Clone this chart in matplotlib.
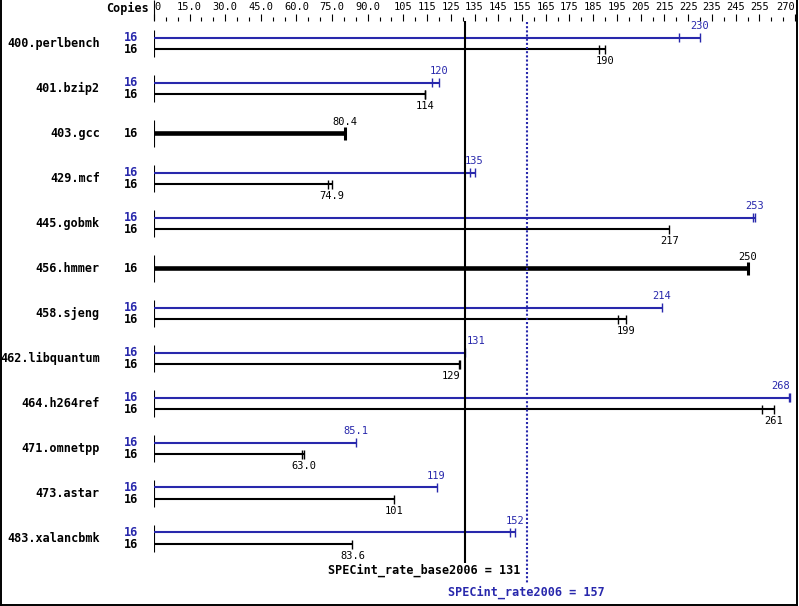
import matplotlib
matplotlib.use("Agg")
import matplotlib.pyplot as plt
from matplotlib.lines import Line2D

benchmarks = ["400.perlbench", "401.bzip2", "403.gcc", "429.mcf", "445.gobmk",
              "456.hmmer", "458.sjeng", "462.libquantum", "464.h264ref",
              "471.omnetpp", "473.astar", "483.xalancbmk"]
copies = [16] * 12
# peak (blue) and base (black) ratios; None = peak same as base (single bar)
peak = [230, 120, None, 135, 253, None, 214, 131, 268, 85.1, 119, 152]
base = [190, 114, 80.4, 74.9, 217, 250, 199, 129, 261, 63.0, 101, 83.6]
# second run tick drawn inside the bar end (None = no extra tick)
peak_lo = [221, 117, None, 133.1, 252.2, None, None, None, 267.6, None, None, 150]
base_lo = [187.5, 114.1, None, 73.3, None, None, 195.6, 128.6, 256, 62.2, None, None]
base_mean = 131
peak_mean = 157

tick_vals = [0, 15, 30, 45, 60, 75, 90, 105, 115, 125, 135, 145, 155, 165, 175,
             185, 195, 205, 215, 225, 235, 245, 255, 270]
tick_text = ["0", "15.0", "30.0", "45.0", "60.0", "75.0", "90.0"] + \
            [str(v) for v in tick_vals[7:]]

BLUE = "#2828ac"
MONO = "DejaVu Sans Mono"
W, H = 799, 606

fig = plt.figure(figsize=(W / 100, H / 100), dpi=100)
ax = fig.add_axes([154 / W, (H - 604) / H, 641 / W, 583 / H])
ax.set_xlim(0, 270)
ax.set_ylim(12.456, -0.5)
for s in ax.spines.values():
    s.set_visible(False)


def row(px):
    return (px - 43.5) / 45


ax.xaxis.tick_top()
ax.set_xticks(tick_vals)
ax.set_xticklabels(tick_text, fontfamily=MONO, fontsize=7.5)
ax.set_xticks(range(0, 271, 5), minor=True)
ax.tick_params(axis="x", which="major", length=5, width=0.8, pad=1.5)
ax.tick_params(axis="x", which="minor", length=3, width=0.8)
ax.set_yticks([])
labs = ax.get_xticklabels()
labs[0].set_ha("left")
labs[-1].set_ha("right")

ax.text(-2, row(8), "Copies", ha="right", va="center", fontfamily=MONO,
        fontsize=8.5, fontweight="bold", clip_on=False)
ax.vlines(0, row(0), row(20), color="black", lw=0.8, clip_on=False)

# label alignment tweaks around the base mean line
ha_peak = {7: "left", 8: "right"}
ha_base = {7: "right"}


def fmt(v):
    return f"{v:g}" if v >= 100 else f"{v:.1f}"


yt = ax.get_yaxis_transform()
for i, name in enumerate(benchmarks):
    ax.text(-54 / 641, i, name, transform=yt, ha="right", va="center",
            fontfamily=MONO, fontsize=8.5, fontweight="bold")
    ax.vlines(0, i - 0.3, i + 0.3, color="black", lw=0.8)
    if peak[i] is None:
        ax.text(-16 / 641, i, str(copies[i]), transform=yt, ha="right", va="center",
                fontfamily=MONO, fontsize=8.5, fontweight="bold")
        ax.hlines(i, 0, base[i], color="black", lw=3.3)
        ax.vlines(base[i], i - 0.155, i + 0.155, color="black", lw=2.2)
        ax.annotate(fmt(base[i]), (base[i], i), xytext=(0, 8),
                    textcoords="offset points", ha="center", va="center",
                    fontfamily=MONO, fontsize=7.5)
        continue
    yp, yb = i - 0.133, i + 0.133
    ax.text(-16 / 641, yp, str(copies[i]), transform=yt, ha="right", va="center",
            fontfamily=MONO, fontsize=8.5, fontweight="bold", color=BLUE)
    ax.text(-16 / 641, yb, str(copies[i]), transform=yt, ha="right", va="center",
            fontfamily=MONO, fontsize=8.5, fontweight="bold")
    ax.hlines(yp, 0, peak[i], color=BLUE, lw=1.5)
    ax.vlines(peak[i], yp - 0.1, yp + 0.1, color=BLUE, lw=1.0)
    if peak_lo[i] is not None:
        ax.vlines(peak_lo[i], yp - 0.1, yp + 0.1, color=BLUE, lw=1.0)
    ax.hlines(yb, 0, base[i], color="black", lw=1.5)
    ax.vlines(base[i], yb - 0.1, yb + 0.1, color="black", lw=1.0)
    if base_lo[i] is not None:
        ax.vlines(base_lo[i], yb - 0.1, yb + 0.1, color="black", lw=1.0)

    hp = ha_peak.get(i, "center")
    dx = 1 if hp == "left" else 0
    ax.annotate(fmt(peak[i]), (peak[i], yp), xytext=(dx, 8),
                textcoords="offset points", ha=hp, va="center",
                fontfamily=MONO, fontsize=7.5, color=BLUE)
    hb = ha_base.get(i, "center")
    ax.annotate(fmt(base[i]), (base[i], yb), xytext=(0, -8.5),
                textcoords="offset points", ha=hb, va="center",
                fontfamily=MONO, fontsize=7.5)

# overall means
ax.vlines(base_mean, row(21), row(563), color="black", lw=1.5, clip_on=False)
ax.vlines(peak_mean, row(22), row(583), color=BLUE, lw=1.5,
          linestyles=(0, (1, 1)), clip_on=False)
ax.text(peak_mean - 2.5, row(570), f"SPECint_rate_base2006 = {base_mean}",
        ha="right", va="center", fontfamily=MONO, fontsize=8.5, fontweight="bold")
ax.text(peak_mean, row(592), f"SPECint_rate2006 = {peak_mean}",
        ha="center", va="center", fontfamily=MONO, fontsize=8.5,
        fontweight="bold", color=BLUE)

# outer frame
for xs, ys in [([1, 1], [0, H - 1]), ([1, W - 2], [H - 1, H - 1]),
               ([W - 2, W - 2], [0, H - 1])]:
    fig.add_artist(Line2D([x / W for x in xs], [1 - y / H for y in ys],
                          transform=fig.transFigure, color="black", lw=1.4))

fig.savefig("out.png", dpi=100)
